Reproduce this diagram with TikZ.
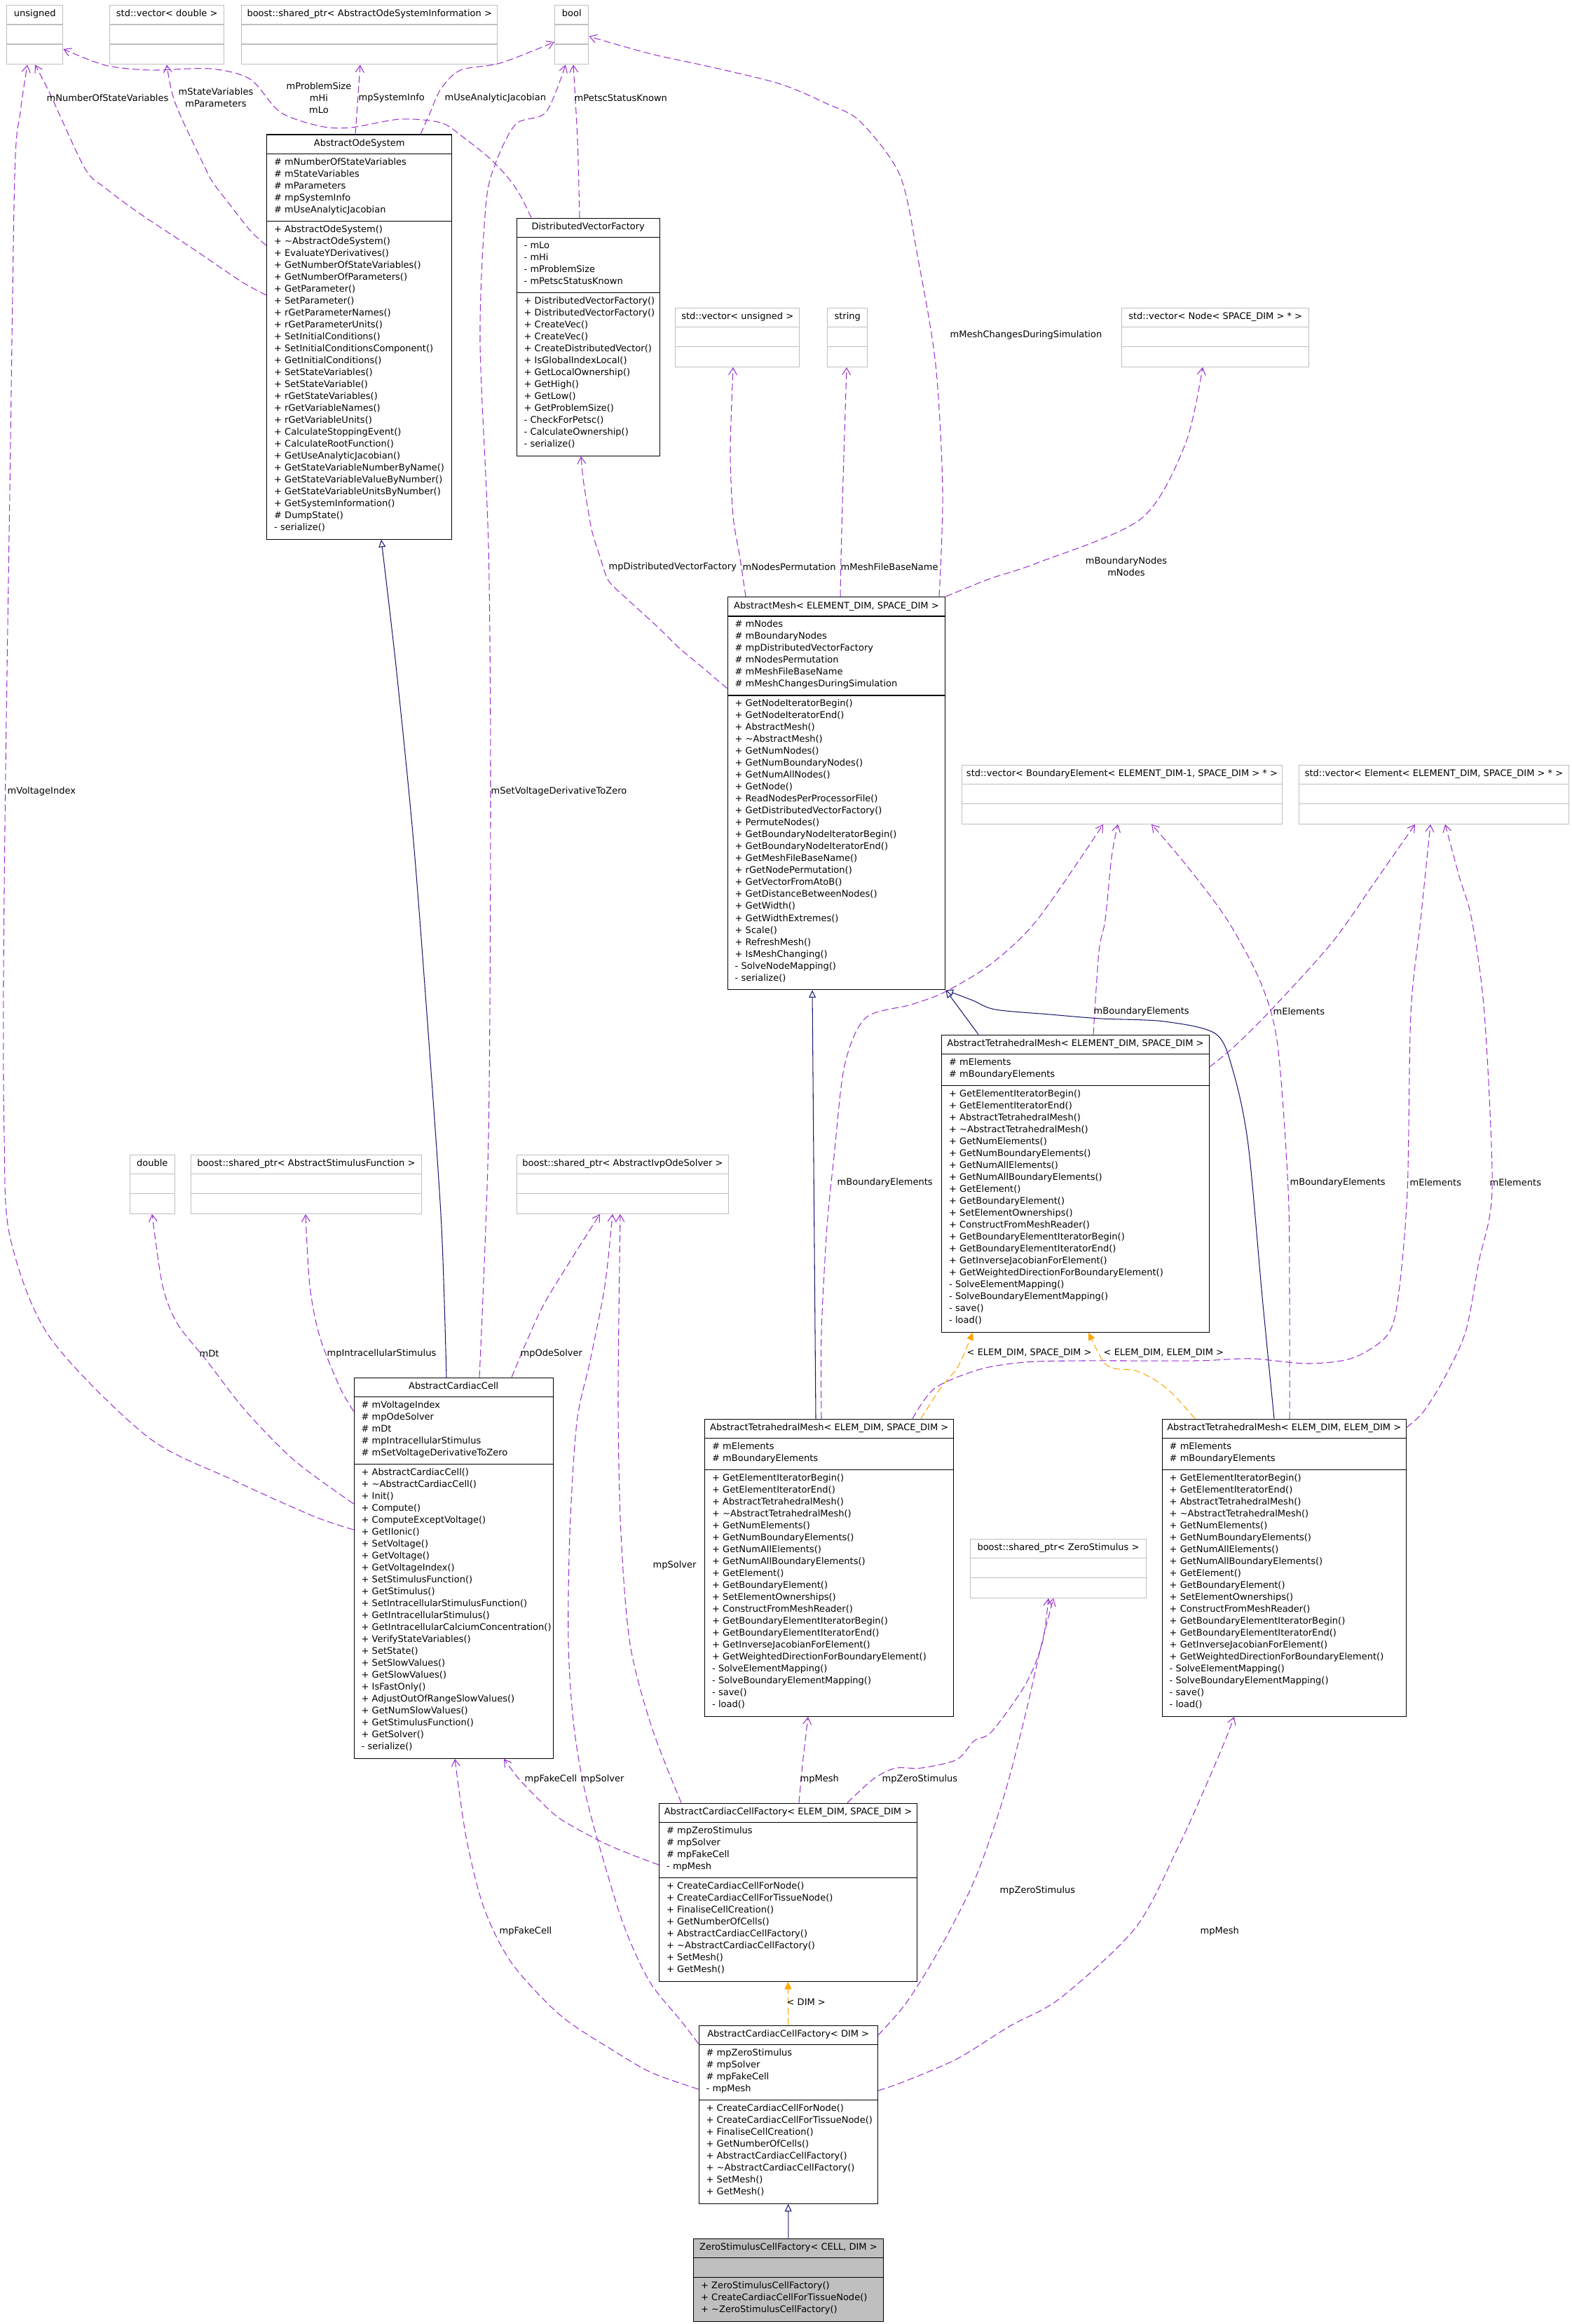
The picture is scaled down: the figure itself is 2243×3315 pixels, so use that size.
\documentclass[tikz,border=0pt]{standalone}
\usepackage{fontspec}
\setmainfont{DejaVu Sans}
\usetikzlibrary{arrows.meta, calc}

\definecolor{memcol}{HTML}{9A32CD}
\definecolor{inhcol}{HTML}{191970}
\definecolor{tmplcol}{HTML}{FFA500}
\definecolor{boxgray}{HTML}{BFBFBF}

\newcommand{\classfont}{\fontsize{3.7pt}{4.84pt}\selectfont}

% one class box: name, style, top left, width, attr lines, method lines, title, attrs, methods
\newcommand{\umlclass}[9]{%
  \pgfmathsetmacro{\clsAttrH}{17*#5+11}%
  \pgfmathsetmacro{\clsMethH}{17*#6+11}%
  \pgfmathsetmacro{\clsTotH}{28+\clsAttrH+\clsMethH}%
  \node[#2, shape=rectangle, inner sep=0pt, anchor=north west,
        minimum width=#4*0.01cm, minimum height=\clsTotH*0.01cm] (#1) at #3 {};
  \draw[#2, fill=none] ($(#1.north west)+(0,28)$) -- ($(#1.north east)+(0,28)$)
    ($(#1.north west)+(0,28+\clsAttrH)$) -- ($(#1.north east)+(0,28+\clsAttrH)$);
  \node[clstitle] (#1-t) at ($(#1.north)+(0,17)$) {#7};
  \node[clstext] (#1-a) at ($(#1.north west)+(10.5,31)$) {\strut #8};
  \node[clstext] (#1-m) at ($(#1.north west)+(10.5,31+\clsAttrH)$) {\strut #9};
}

\newcommand{\tetattrs}{\# mElements\\\# mBoundaryElements}
\newcommand{\tetmethods}{+ GetElementIteratorBegin()\\+ GetElementIteratorEnd()\\+ AbstractTetrahedralMesh()\\+ \textasciitilde AbstractTetrahedralMesh()\\+ GetNumElements()\\+ GetNumBoundaryElements()\\+ GetNumAllElements()\\+ GetNumAllBoundaryElements()\\+ GetElement()\\+ GetBoundaryElement()\\+ SetElementOwnerships()\\+ ConstructFromMeshReader()\\+ GetBoundaryElementIteratorBegin()\\+ GetBoundaryElementIteratorEnd()\\+ GetInverseJacobianForElement()\\+ GetWeightedDirectionForBoundaryElement()\\- SolveElementMapping()\\- SolveBoundaryElementMapping()\\- save()\\- load()}
\newcommand{\factoryattrs}{\# mpZeroStimulus\\\# mpSolver\\\# mpFakeCell\\- mpMesh}
\newcommand{\factorymethods}{+ CreateCardiacCellForNode()\\+ CreateCardiacCellForTissueNode()\\+ FinaliseCellCreation()\\+ GetNumberOfCells()\\+ AbstractCardiacCellFactory()\\+ \textasciitilde AbstractCardiacCellFactory()\\+ SetMesh()\\+ GetMesh()}

\begin{document}
\begin{tikzpicture}[
  x=0.01cm, y=-0.01cm,
  cls/.style={draw=black, fill=white, line width=0.4pt},
  ext/.style={draw=boxgray, fill=white, line width=0.4pt},
  cur/.style={draw=black, fill=boxgray, line width=0.4pt},
  clstitle/.style={font=\classfont, inner sep=0pt, anchor=base},
  clstext/.style={font=\classfont, inner sep=0pt, anchor=north west, align=left},
  lbl/.style={font=\classfont, inner sep=0pt, anchor=west},
  member/.style={draw=memcol, line width=0.3pt, dash pattern=on 2.8pt off 1.4pt,
    -{Straight Barb[length=2.8pt, width=3.4pt]}},
  inherit/.style={draw=inhcol, line width=0.3pt,
    -{Triangle[open, length=3pt, width=2.8pt, fill=white]}},
  tmpl/.style={draw=tmplcol, line width=0.3pt, dash pattern=on 2.8pt off 1.4pt,
    -{Triangle[length=3pt, width=2.8pt]}}
]
  \useasboundingbox (0,0) rectangle (2243,3315);

  % top row
  \umlclass{uns}{ext}{(9,7)}{80}{1}{1}{unsigned}{}{}
  \umlclass{vecd}{ext}{(156,7)}{163}{1}{1}{std::vector< double >}{}{}
  \umlclass{sysinfo}{ext}{(344,7)}{365}{1}{1}{boost::shared\_ptr< AbstractOdeSystemInformation >}{}{}
  \umlclass{bool}{ext}{(791,7)}{48}{1}{1}{bool}{}{}

  \umlclass{aos}{cls}{(380,191.5)}{264}{5}{26}{AbstractOdeSystem}
    {\# mNumberOfStateVariables\\\# mStateVariables\\\# mParameters\\\# mpSystemInfo\\\# mUseAnalyticJacobian}
    {+ AbstractOdeSystem()\\+ \textasciitilde AbstractOdeSystem()\\+ EvaluateYDerivatives()\\+ GetNumberOfStateVariables()\\+ GetNumberOfParameters()\\+ GetParameter()\\+ SetParameter()\\+ rGetParameterNames()\\+ rGetParameterUnits()\\+ SetInitialConditions()\\+ SetInitialConditionsComponent()\\+ GetInitialConditions()\\+ SetStateVariables()\\+ SetStateVariable()\\+ rGetStateVariables()\\+ rGetVariableNames()\\+ rGetVariableUnits()\\+ CalculateStoppingEvent()\\+ CalculateRootFunction()\\+ GetUseAnalyticJacobian()\\+ GetStateVariableNumberByName()\\+ GetStateVariableValueByNumber()\\+ GetStateVariableUnitsByNumber()\\+ GetSystemInformation()\\\# DumpState()\\- serialize()}

  \umlclass{dvf}{cls}{(736.5,310.5)}{204}{4}{13}{DistributedVectorFactory}
    {- mLo\\- mHi\\- mProblemSize\\- mPetscStatusKnown}
    {+ DistributedVectorFactory()\\+ DistributedVectorFactory()\\+ CreateVec()\\+ CreateVec()\\+ CreateDistributedVector()\\+ IsGlobalIndexLocal()\\+ GetLocalOwnership()\\+ GetHigh()\\+ GetLow()\\+ GetProblemSize()\\- CheckForPetsc()\\- CalculateOwnership()\\- serialize()}

  \umlclass{vecu}{ext}{(963,438.5)}{177}{1}{1}{std::vector< unsigned >}{}{}
  \umlclass{str}{ext}{(1180,438.5)}{57}{1}{1}{string}{}{}
  \umlclass{vecn}{ext}{(1600,438.5)}{267}{1}{1}{std::vector< Node< SPACE\_DIM > * >}{}{}

  \umlclass{amesh}{cls}{(1037.5,851)}{310.5}{6}{24}{AbstractMesh< ELEMENT\_DIM, SPACE\_DIM >}
    {\# mNodes\\\# mBoundaryNodes\\\# mpDistributedVectorFactory\\\# mNodesPermutation\\\# mMeshFileBaseName\\\# mMeshChangesDuringSimulation}
    {+ GetNodeIteratorBegin()\\+ GetNodeIteratorEnd()\\+ AbstractMesh()\\+ \textasciitilde AbstractMesh()\\+ GetNumNodes()\\+ GetNumBoundaryNodes()\\+ GetNumAllNodes()\\+ GetNode()\\+ ReadNodesPerProcessorFile()\\+ GetDistributedVectorFactory()\\+ PermuteNodes()\\+ GetBoundaryNodeIteratorBegin()\\+ GetBoundaryNodeIteratorEnd()\\+ GetMeshFileBaseName()\\+ rGetNodePermutation()\\+ GetVectorFromAtoB()\\+ GetDistanceBetweenNodes()\\+ GetWidth()\\+ GetWidthExtremes()\\+ Scale()\\+ RefreshMesh()\\+ IsMeshChanging()\\- SolveNodeMapping()\\- serialize()}

  \umlclass{vecbe}{ext}{(1371.5,1090.5)}{457.5}{1}{1}{std::vector< BoundaryElement< ELEMENT\_DIM-1, SPACE\_DIM > * >}{}{}
  \umlclass{vece}{ext}{(1853,1090.5)}{384.5}{1}{1}{std::vector< Element< ELEMENT\_DIM, SPACE\_DIM > * >}{}{}

  \umlclass{atm}{cls}{(1343,1475.5)}{381.5}{2}{20}{AbstractTetrahedralMesh< ELEMENT\_DIM, SPACE\_DIM >}{\tetattrs}{\tetmethods}

  \umlclass{dbl}{ext}{(184.5,1646.5)}{64}{1}{1}{double}{}{}
  \umlclass{stim}{ext}{(272,1646.5)}{328.5}{1}{1}{boost::shared\_ptr< AbstractStimulusFunction >}{}{}
  \umlclass{ivp}{ext}{(736.5,1646.5)}{302.5}{1}{1}{boost::shared\_ptr< AbstractIvpOdeSolver >}{}{}

  \umlclass{acc}{cls}{(504.5,1964.5)}{284}{5}{24}{AbstractCardiacCell}
    {\# mVoltageIndex\\\# mpOdeSolver\\\# mDt\\\# mpIntracellularStimulus\\\# mSetVoltageDerivativeToZero}
    {+ AbstractCardiacCell()\\+ \textasciitilde AbstractCardiacCell()\\+ Init()\\+ Compute()\\+ ComputeExceptVoltage()\\+ GetIIonic()\\+ SetVoltage()\\+ GetVoltage()\\+ GetVoltageIndex()\\+ SetStimulusFunction()\\+ GetStimulus()\\+ SetIntracellularStimulusFunction()\\+ GetIntracellularStimulus()\\+ GetIntracellularCalciumConcentration()\\+ VerifyStateVariables()\\+ SetState()\\+ SetSlowValues()\\+ GetSlowValues()\\+ IsFastOnly()\\+ AdjustOutOfRangeSlowValues()\\+ GetNumSlowValues()\\+ GetStimulusFunction()\\+ GetSolver()\\- serialize()}

  \umlclass{atmes}{cls}{(1005,2023.5)}{355}{2}{20}{AbstractTetrahedralMesh< ELEM\_DIM, SPACE\_DIM >}{\tetattrs}{\tetmethods}
  \umlclass{atmee}{cls}{(1657.5,2023.5)}{348}{2}{20}{AbstractTetrahedralMesh< ELEM\_DIM, ELEM\_DIM >}{\tetattrs}{\tetmethods}
  \umlclass{zstim}{ext}{(1383.5,2194.5)}{251.5}{1}{1}{boost::shared\_ptr< ZeroStimulus >}{}{}

  \umlclass{accf}{cls}{(940,2571.5)}{367.5}{4}{8}{AbstractCardiacCellFactory< ELEM\_DIM, SPACE\_DIM >}{\factoryattrs}{\factorymethods}
  \umlclass{accfd}{cls}{(996.5,2888.5)}{255}{4}{8}{AbstractCardiacCellFactory< DIM >}{\factoryattrs}{\factorymethods}
  \umlclass{zscf}{cur}{(989,3192.5)}{270.5}{1}{3}{ZeroStimulusCellFactory< CELL, DIM >}{}
    {+ ZeroStimulusCellFactory()\\+ CreateCardiacCellForTissueNode()\\+ \textasciitilde ZeroStimulusCellFactory()}

  % inheritance and template links
  \draw[inherit] (zscf.north) -- (accfd.south);
  \draw[tmpl] (accfd.north) -- (accf.south);
  \draw[inherit] plot[smooth] coordinates {(acc.north -| 637,0) (630,1750) (613,1500) (590,1200) (565,950) (aos.south -| 544,0)};
  \draw[inherit] (atm.north -| 1396,0) -- (amesh.south east);
  \draw[inherit] (atmes.north -| 1164,0) -- (amesh.south -| 1159,0);
  \draw[inherit] plot[smooth] coordinates {(atmee.north -| 1818,0) (1801,1850) (1781,1633) (1760,1530) (1735,1475) (1661,1457) (1571,1453) (1498,1447) (1420,1440) (1388,1427) (amesh.south east)};
  \draw[tmpl] plot[smooth] coordinates {(atmes.north -| 1314,0) (1342,1980) (1367,1949) (atm.south -| 1388,0)};
  \draw[tmpl] plot[smooth] coordinates {(atmee.north -| 1705,0) (1673,1988) (1649,1969) (1620,1955) (1590,1952) (1574,1942) (atm.south -| 1553,0)};

  % member links
  \draw[member] plot[smooth] coordinates {(aos.west |- 0,421) (345,402) (280,358) (200,305) (150,268) (121,240) (71,133) (uns.south -| 50,0)};
  \draw[member] plot[smooth] coordinates {(aos.west |- 0,350) (358,330) (328,292) (305,262) (293,240) (250,147) (vecd.south -| 238,0)};
  \draw[member] plot[smooth] coordinates {(dvf.north -| 758,0) (743,280) (727,256) (700,227) (660,195) (629,175) (571,170) (500,182) (457,180) (400,160) (357,113) (300,98) (214,100) (150,93) (uns.east |- 0,70)};
  \draw[member] (aos.north -| 507,0) -- (sysinfo.south -| 514,0);
  \draw[member] plot[smooth] coordinates {(aos.north -| 600,0) (614,160) (629,127) (657,100) (714,90) (bool.west |- 0,60)};
  \draw[member] plot[smooth] coordinates {(dvf.north -| 827,0) (824,200) (bool.south -| 818,0)};
  \draw[member] plot[smooth] coordinates {(acc.north -| 684,0) (697,1620) (700,1129) (697,780) (685,486) (693,295) (707,233) (736,177) (779,160) (bool.south -| 807,0)};
  \draw[member] plot[smooth] coordinates {(amesh.north -| 1340,0) (1345,700) (1335,520) (1310,370) (1284,250) (1227,173) (1180,148) (1114,120) (1021,97) (929,77) (bool.east |- 0,52)};
  \draw[member] plot[smooth] coordinates {(amesh.west |- 0,982) (1007,956) (970,925) (937,893) (891,851) (868,828) (857,797) (845,759) (838,721) (832,683) (dvf.south -| 829,0)};
  \draw[member] plot[smooth] coordinates {(amesh.north -| 1064,0) (1056,797) (1046,736) (1042,644) (vecu.south -| 1046,0)};
  \draw[member] plot[smooth] coordinates {(amesh.north -| 1199,0) (1200,797) (1203,683) (str.south -| 1208,0)};
  \draw[member] plot[smooth] coordinates {(amesh.north east) (1411,826) (1480,803) (1628,740) (1691,634) (vecn.south -| 1716,0)};
  \draw[member] plot[smooth] coordinates {(atm.north -| 1560,0) (1568,1357) (1577,1312) (1586,1223) (vecbe.south -| 1595,0)};
  \draw[member] plot[smooth] coordinates {(atm.east |- 0,1522) (1763,1491) (1817,1437) (1901,1344) (1961,1259) (vece.south -| 2019,0)};
  \draw[member] plot[smooth] coordinates {(atmes.north -| 1172,0) (1172,1900) (1180,1750) (1190,1650) (1205,1520) (1235,1452) (1300,1433) (1348,1415) (1414,1375) (1480,1312) (vecbe.south -| 1574,0)};
  \draw[member] plot[smooth] coordinates {(atmes.north -| 1302,0) (1334,1980) (1399,1953) (1463,1943) (1544,1941) (1705,1941) (1785,1938) (1866,1945) (1930,1937) (1979,1905) (1995,1850) (2008,1700) (2013,1446) (2027,1312) (vece.south -| 2041,0)};
  \draw[member] plot[smooth] coordinates {(atmee.north -| 1840,0) (1840,1850) (1838,1696) (1823,1491) (1799,1402) (1751,1312) (1691,1232) (vecbe.south -| 1643,0)};
  \draw[member] plot[smooth] coordinates {(atmee.east |- 0,2036) (2030,2015) (2059,1969) (2091,1900) (2110,1800) (2129,1696) (2118,1446) (2100,1312) (2082,1250) (vece.south -| 2062,0)};
  \draw[member] plot[smooth] coordinates {(acc.north -| 730,0) (771,1870) (814,1798) (ivp.south -| 856,0)};
  \draw[member] plot[smooth] coordinates {(acc.west |- 0,2145) (421,2084) (351,2013) (295,1941) (253,1888) (232,1834) (dbl.south -| 217,0)};
  \draw[member] plot[smooth] coordinates {(acc.west |- 0,2013) (484,1977) (456,1906) (442,1834) (stim.south -| 436,0)};
  \draw[member] plot[smooth] coordinates {(acc.west |- 0,2182) (448,2163) (330,2110) (210,2049) (70,1906) (14,1763) (6,1620) (5,1400) (8,1100) (14,700) (21,250) (29,160) (uns.south -| 39,0)};
  \draw[member] plot[smooth] coordinates {(accf.north -| 972,0) (930,2464) (899,2345) (886,2187) (882,2000) (ivp.south -| 885,0)};
  \draw[member] plot[smooth] coordinates {(accfd.west |- 0,2915) (972,2883) (931,2833) (905,2783) (880,2717) (838,2570) (819,2464) (811,2345) (813,2187) (823,2029) (842,1941) (863,1834) (ivp.south -| 874,0)};
  \draw[member] plot[smooth] coordinates {(accf.west |- 0,2660) (905,2647) (860,2628) (800,2595) (769,2567) (740,2537) (acc.south -| 719,0)};
  \draw[member] plot[smooth] coordinates {(accfd.west |- 0,2980) (931,2957) (880,2928) (800,2875) (730,2800) (690,2720) (665,2620) (acc.south -| 649,0)};
  \draw[member] plot[smooth] coordinates {(accf.north -| 1209,0) (1247,2537) (1278,2522) (1314,2522) (1365,2510) (1390,2483) (1415,2470) (1463,2403) (1487,2344) (zstim.south -| 1496,0)};
  \draw[member] plot[smooth] coordinates {(accfd.east |- 0,2903) (1293,2857) (1339,2783) (1390,2683) (1431,2567) (1462,2450) (1485,2350) (zstim.south -| 1503,0)};
  \draw[member] plot[smooth] coordinates {(accf.north -| 1140,0) (1145,2517) (atmes.south -| 1153,0)};
  \draw[member] plot[smooth] coordinates {(accfd.east |- 0,2982) (1288,2970) (1365,2937) (1441,2890) (1513,2850) (1620,2750) (1680,2637) (1715,2560) (1745,2490) (atmee.south -| 1761,0)};

  % link labels
  \node[lbl] (l-nsv) at (66,140) {mNumberOfStateVariables};
  \node[lbl, anchor=center, align=center] (l-sv) at (308,139) {mStateVariables\\mParameters};
  \node[lbl, anchor=center, align=center] (l-ps) at (455,140) {mProblemSize\\mHi\\mLo};
  \node[lbl] (l-si) at (511,140) {mpSystemInfo};
  \node[lbl] (l-uaj) at (634,140) {mUseAnalyticJacobian};
  \node[lbl] (l-psk) at (819,140) {mPetscStatusKnown};
  \node[lbl] (l-vi) at (10,1129) {mVoltageIndex};
  \node[lbl] (l-svd) at (700,1129) {mSetVoltageDerivativeToZero};
  \node[lbl] (l-mcds) at (1355,478) {mMeshChangesDuringSimulation};
  \node[lbl] (l-dvf) at (868,809) {mpDistributedVectorFactory};
  \node[lbl] (l-np) at (1059,809) {mNodesPermutation};
  \node[lbl] (l-mfb) at (1199,809) {mMeshFileBaseName};
  \node[lbl, anchor=center, align=center] (l-bn) at (1607,808) {mBoundaryNodes\\mNodes};
  \node[lbl] (l-be1) at (1560,1443) {mBoundaryElements};
  \node[lbl] (l-el1) at (1816,1443) {mElements};
  \node[lbl] (l-be2) at (1194,1687) {mBoundaryElements};
  \node[lbl] (l-be3) at (1840,1687) {mBoundaryElements};
  \node[lbl] (l-el2) at (2011,1687) {mElements};
  \node[lbl] (l-el3) at (2125,1687) {mElements};
  \node[lbl] (l-tes) at (1379,1930) {< ELEM\_DIM, SPACE\_DIM >};
  \node[lbl] (l-tee) at (1574,1930) {< ELEM\_DIM, ELEM\_DIM >};
  \node[lbl] (l-dt) at (284,1931) {mDt};
  \node[lbl] (l-is) at (466,1931) {mpIntracellularStimulus};
  \node[lbl] (l-os) at (742,1931) {mpOdeSolver};
  \node[lbl] (l-s1) at (931,2233) {mpSolver};
  \node[lbl] (l-fc1) at (748,2538) {mpFakeCell};
  \node[lbl] (l-s2) at (828,2538) {mpSolver};
  \node[lbl] (l-mm1) at (1141,2538) {mpMesh};
  \node[lbl] (l-zs1) at (1258,2538) {mpZeroStimulus};
  \node[lbl] (l-zs2) at (1426,2697) {mpZeroStimulus};
  \node[lbl] (l-fc2) at (712,2755) {mpFakeCell};
  \node[lbl] (l-mm2) at (1712,2755) {mpMesh};
  \node[lbl] (l-dim) at (1122,2856) {< DIM >};
\end{tikzpicture}
\end{document}
